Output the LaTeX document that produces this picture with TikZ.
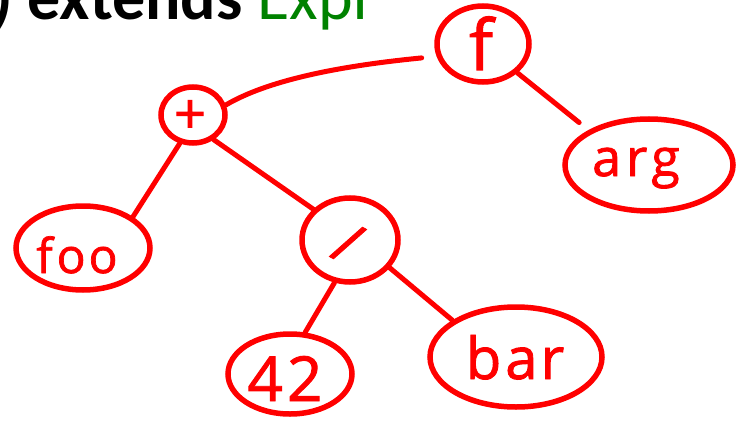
\documentclass[tikz,border=0pt]{standalone}
\usepackage{fontspec}
\usetikzlibrary{shapes.geometric}
\newfontfamily\headfont{Carlito}
\newfontfamily\handfont[FakeBold=1.5]{Open Sans}
\definecolor{ink}{RGB}{255,0,0}
\definecolor{typegreen}{RGB}{0,130,0}

\begin{document}
\begin{tikzpicture}[x=1pt,y=-1pt,
  bubble/.style={ellipse, draw=ink, line width=5.5pt, inner sep=0pt},
  handtext/.style={text=ink, inner sep=0pt, font=\handfont\fontsize{#1}{#1}\selectfont},
  link/.style={draw=ink, line width=5pt, line cap=round},
]
\useasboundingbox (0,0) rectangle (743,422);

% heading line, partly above the top edge
\node[anchor=base west, inner sep=0pt,
      font=\headfont\fontsize{66}{66}\selectfont] (heading) at (-8,20)
  {\textbf{) extends} \textcolor{typegreen}{Expr}};

% the expression tree
\node[bubble, minimum width=92, minimum height=76]  (f)     at (483,44)  {};
\node[bubble, minimum width=64, minimum height=56]  (plus)  at (193,115) {};
\node[bubble, minimum width=134, minimum height=84] (foo)   at (83,248)  {};
\node[bubble, minimum width=96, minimum height=84]  (slash) at (350,240) {};
\node[bubble, minimum width=168, minimum height=92] (arg)   at (649,165) {};
\node[bubble, minimum width=124, minimum height=80] (n42)   at (290,374) {};
\node[bubble, minimum width=172, minimum height=100] (bar)  at (516,357) {};

% loosely spaced hand lettering
\node[handtext=70, anchor=base]  (ftext)     at (481,70)  {f};
\node[handtext=56]               (plustext)  at (190,117) {+};
\node[handtext=48, anchor=base]  (footext)   at (77,273)  {f\kern4pt o\kern3pt o};
\node[handtext=58, rotate=-28]   (slashtext) at (348,243) {/};
\node[handtext=52, anchor=base]  (argtext)   at (636,176) {a\kern5pt r\kern4pt g};
\node[handtext=62, anchor=base]  (n42text)   at (285,401) {4\kern4pt 2};
\node[handtext=58, anchor=base]  (bartext)   at (515,379) {b\kern4pt a\kern3pt r};

% connectors
\draw[link, shorten >=15pt] (plus.17) .. controls (275,76) and (360,64) .. (f.195);
\draw[link, shorten >=12pt] (f.-40) -- (arg.150);
\draw[link] (plus.-115) -- (foo.32);
\draw[link] (plus.-50) -- (slash.140);
\draw[link] (slash.-110) -- (n42.70);
\draw[link] (slash.-35) -- (bar.150);
\end{tikzpicture}
\end{document}
